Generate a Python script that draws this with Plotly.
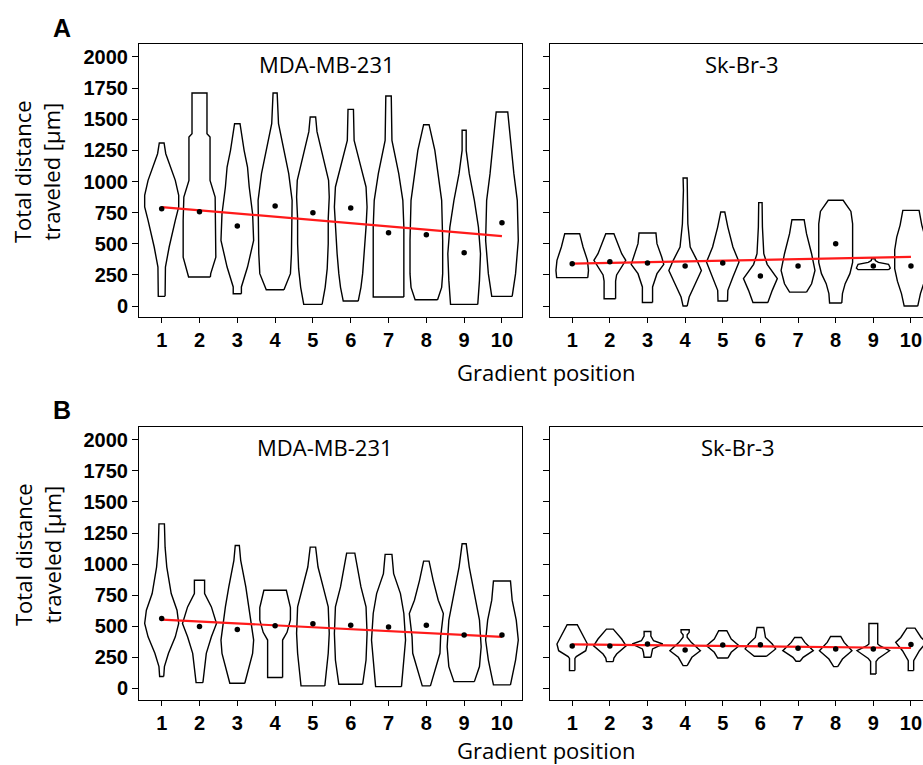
import plotly.graph_objects as go

# ---------------- data ----------------
POSITIONS = [1, 2, 3, 4, 5, 6, 7, 8, 9, 10]
Y_TICKS = [0, 250, 500, 750, 1000, 1250, 1500, 1750, 2000]
PANEL_TITLES = ["MDA-MB-231", "Sk-Br-3"]

# Violin outlines: distance values (µm) and relative density (0..50 scale)
A_MDA_VALUES = [
    [78, 206, 313, 474, 581, 688, 795, 889, 1009, 1116, 1223, 1309],
    [233, 260, 393, 688, 875, 1009, 1357, 1384, 1711],
    [99, 153, 313, 527, 741, 956, 1116, 1250, 1464],
    [131, 260, 420, 634, 849, 1063, 1250, 1464, 1711],
    [13, 150, 300, 500, 700, 875, 1009, 1250, 1400, 1518],
    [40, 150, 260, 420, 634, 795, 956, 1116, 1330, 1579],
    [72, 313, 634, 849, 1063, 1330, 1686],
    [51, 150, 260, 527, 849, 1063, 1250, 1456],
    [13, 206, 420, 634, 849, 1063, 1250, 1411],
    [78, 260, 527, 849, 1063, 1330, 1558],
]
A_MDA_DENSITY = [
    [10, 10, 11, 22, 30, 40, 50, 50, 40, 25, 12, 7],
    [32, 33, 48, 48, 46, 31, 31, 22, 22],
    [12, 12, 30, 48, 45, 35, 30, 20, 8],
    [26, 45, 48, 50, 50, 40, 25, 10, 6],
    [27, 36, 42, 45, 45, 48, 46, 25, 12, 8],
    [22, 30, 35, 40, 45, 48, 45, 30, 10, 8],
    [45, 45, 45, 42, 30, 10, 8],
    [33, 45, 48, 48, 45, 35, 25, 8],
    [40, 45, 48, 42, 30, 15, 6, 6],
    [30, 40, 48, 45, 35, 25, 17],
]
A_MDA_MEANS = [782, 758, 642, 803, 750, 787, 589, 573, 428, 669]
A_MDA_FIT = [795, 562]

A_SK_VALUES = [
    [228, 286, 367, 474, 581],
    [59, 200, 250, 300, 367, 420, 474, 540, 581],
    [29, 153, 260, 335, 394, 501, 586],
    [0, 72, 179, 286, 367, 474, 661, 929, 1028],
    [40, 126, 233, 353, 474, 634, 755],
    [29, 126, 220, 260, 335, 420, 634, 830],
    [112, 179, 286, 420, 581, 693],
    [24, 100, 180, 260, 350, 500, 660, 760, 849],
    [292, 305, 335, 350, 365, 380],
    [0, 100, 200, 300, 450, 554, 650, 768],
]
A_SK_DENSITY = [
    [46, 48, 45, 32, 22],
    [17, 17, 20, 32, 47, 35, 27, 18, 12],
    [15, 15, 28, 48, 42, 28, 25],
    [6, 12, 30, 48, 35, 15, 8, 5, 6],
    [14, 15, 30, 48, 30, 15, 6],
    [22, 35, 50, 40, 20, 10, 6, 5],
    [25, 40, 50, 40, 25, 18],
    [18, 20, 28, 42, 50, 50, 50, 45, 22],
    [45, 50, 45, 15, 6, 5],
    [20, 28, 40, 48, 48, 42, 32, 24],
]
A_SK_MEANS = [340, 356, 345, 321, 345, 241, 321, 501, 321, 321]
A_SK_FIT = [340, 394]

B_MDA_VALUES = [
    [94, 174, 281, 414, 521, 628, 762, 976, 1136, 1324],
    [45, 281, 414, 521, 655, 762, 869],
    [40, 281, 388, 655, 816, 1030, 1150],
    [86, 200, 300, 388, 450, 550, 650, 789],
    [19, 281, 441, 655, 816, 976, 1136],
    [32, 227, 441, 655, 816, 976, 1088],
    [13, 200, 388, 602, 762, 923, 1078],
    [19, 120, 281, 414, 602, 709, 869, 1024],
    [53, 174, 334, 548, 762, 976, 1163],
    [27, 227, 388, 548, 709, 864],
]
B_MDA_DENSITY = [
    [6, 8, 20, 40, 50, 45, 28, 15, 10, 8],
    [10, 20, 35, 50, 35, 15, 15],
    [22, 45, 48, 35, 25, 10, 6],
    [22, 22, 22, 22, 35, 45, 45, 33],
    [35, 45, 48, 45, 30, 15, 8],
    [35, 45, 48, 45, 30, 20, 12],
    [38, 45, 50, 45, 35, 15, 10],
    [12, 22, 40, 42, 50, 35, 20, 8],
    [30, 45, 50, 45, 30, 15, 6],
    [25, 40, 48, 42, 30, 25],
]
B_MDA_MEANS = [562, 497, 473, 503, 519, 508, 492, 508, 428, 428]
B_MDA_FIT = [553, 414]

B_SK_VALUES = [
    [142, 240, 255, 302, 356, 436, 511],
    [214, 243, 275, 342, 396, 476],
    [249, 290, 316, 356, 382, 420, 457],
    [182, 249, 302, 369, 410, 430, 450, 471],
    [243, 289, 342, 396, 463],
    [257, 262, 316, 356, 409, 489],
    [217, 249, 302, 369, 409],
    [174, 235, 302, 369, 417],
    [115, 215, 240, 302, 340, 356, 521],
    [142, 222, 302, 369, 409, 484],
]
B_SK_DENSITY = [
    [8, 8, 12, 40, 45, 30, 15],
    [10, 12, 20, 48, 35, 10],
    [10, 12, 15, 45, 18, 10, 10],
    [6, 20, 45, 18, 6, 6, 12, 12],
    [15, 25, 48, 25, 12],
    [18, 20, 45, 35, 15, 10],
    [6, 15, 45, 20, 10],
    [6, 20, 48, 25, 15],
    [8, 8, 15, 48, 20, 13, 13],
    [8, 8, 25, 45, 30, 12],
]
B_SK_MEANS = [340, 340, 356, 308, 348, 350, 321, 316, 316, 353]
B_SK_FIT = [353, 324]

# ---------------- style ----------------
DENSITY_MAX = 50.0
HALF_WIDTH = 0.45
TICK_FONT = dict(family="Liberation Sans, Arial, sans-serif", size=20, color="black", weight="bold")
TEXT_FONT = dict(family="Open Sans, sans-serif", size=22, color="black")

W, H = 923, 765
fig = go.Figure()

panels = [
    (A_MDA_VALUES, A_MDA_DENSITY, A_MDA_MEANS, A_MDA_FIT, "x", "y"),
    (A_SK_VALUES, A_SK_DENSITY, A_SK_MEANS, A_SK_FIT, "x2", "y2"),
    (B_MDA_VALUES, B_MDA_DENSITY, B_MDA_MEANS, B_MDA_FIT, "x3", "y3"),
    (B_SK_VALUES, B_SK_DENSITY, B_SK_MEANS, B_SK_FIT, "x4", "y4"),
]

for values, dens, means, fit, xa, ya in panels:
    for pos, vals, ds in zip(POSITIONS, values, dens):
        hw = [d / DENSITY_MAX * HALF_WIDTH for d in ds]
        xs = [pos + w for w in hw] + [pos - w for w in reversed(hw)] + [pos + hw[0]]
        ys = list(vals) + list(reversed(vals)) + [vals[0]]
        fig.add_trace(go.Scatter(
            x=xs, y=ys, mode="lines", fill="toself", fillcolor="white",
            line=dict(color="black", width=1.4), xaxis=xa, yaxis=ya,
            hoverinfo="skip", showlegend=False))
    fig.add_trace(go.Scatter(
        x=[POSITIONS[0], POSITIONS[-1]], y=fit, mode="lines",
        line=dict(color="#ff1a1a", width=2.2), xaxis=xa, yaxis=ya,
        hoverinfo="skip", showlegend=False))
    fig.add_trace(go.Scatter(
        x=POSITIONS, y=means, mode="markers",
        marker=dict(color="black", size=5.5), xaxis=xa, yaxis=ya,
        hoverinfo="skip", showlegend=False))

def px_x(p):
    return p / W

def px_y(p):
    return 1 - p / H

left_dom = [px_x(139), px_x(522)]
right_dom = [px_x(550), 1.0]
top_dom = [px_y(317), px_y(44)]
bot_dom = [px_y(700), px_y(426.5)]

def xax(dom, rng, mirror, anchor):
    return dict(domain=dom, range=rng, anchor=anchor, tickvals=POSITIONS,
                ticks="outside", ticklen=5, tickwidth=1, tickcolor="black",
                showline=True, linecolor="black", linewidth=1, mirror=mirror,
                showgrid=False, zeroline=False, tickfont=TICK_FONT, fixedrange=True)

def yax(dom, rng, labels, mirror, anchor):
    return dict(domain=dom, range=rng, anchor=anchor, tickvals=Y_TICKS,
                ticks="outside", ticklen=6, tickwidth=1, tickcolor="black",
                showticklabels=labels, showline=True, linecolor="black", linewidth=1,
                mirror=mirror, showgrid=False, zeroline=False, tickfont=TICK_FONT,
                fixedrange=True)

LEFT_RANGE = [0.4, 10.53]
RIGHT_RANGE = [0.41, 10.32]
Y_RANGE_A = [-88, 2104]
Y_RANGE_B = [-95, 2108]

fig.update_layout(
    width=W, height=H, autosize=False,
    margin=dict(l=0, r=0, t=0, b=0),
    paper_bgcolor="white", plot_bgcolor="white",
    xaxis=xax(left_dom, LEFT_RANGE, True, "y"),
    yaxis=yax(top_dom, Y_RANGE_A, True, True, "x"),
    xaxis2=xax(right_dom, RIGHT_RANGE, True, "y2"),
    yaxis2=yax(top_dom, Y_RANGE_A, False, False, "x2"),
    xaxis3=xax(left_dom, LEFT_RANGE, True, "y3"),
    yaxis3=yax(bot_dom, Y_RANGE_B, True, True, "x3"),
    xaxis4=xax(right_dom, RIGHT_RANGE, True, "y4"),
    yaxis4=yax(bot_dom, Y_RANGE_B, False, False, "x4"),
)

annotations = [
    dict(text=PANEL_TITLES[0], x=px_x(327), y=px_y(64)),
    dict(text=PANEL_TITLES[1], x=px_x(742), y=px_y(64)),
    dict(text=PANEL_TITLES[0], x=px_x(325), y=px_y(447)),
    dict(text=PANEL_TITLES[1], x=px_x(738), y=px_y(447)),
    dict(text="Gradient position", x=px_x(546), y=px_y(372)),
    dict(text="Gradient position", x=px_x(546), y=px_y(750)),
    dict(text="Total distance<br>traveled [µm]", x=px_x(37), y=px_y(172), textangle=-90),
    dict(text="Total distance<br>traveled [µm]", x=px_x(37), y=px_y(555), textangle=-90),
]
for a in annotations:
    fig.add_annotation(xref="paper", yref="paper", showarrow=False,
                       xanchor="center", yanchor="middle", font=TEXT_FONT, **a)

for letter, yy in [("A", 28), ("B", 410)]:
    fig.add_annotation(xref="paper", yref="paper", showarrow=False, text=letter,
                       x=px_x(62), y=px_y(yy), xanchor="center", yanchor="middle",
                       font=dict(family="Liberation Sans, Arial, sans-serif", size=25,
                                 color="black", weight="bold"))

fig.write_html("out.html", config={"displayModeBar": False, "staticPlot": True},
               post_script="document.body.style.margin='0';document.body.style.overflow='hidden';")
